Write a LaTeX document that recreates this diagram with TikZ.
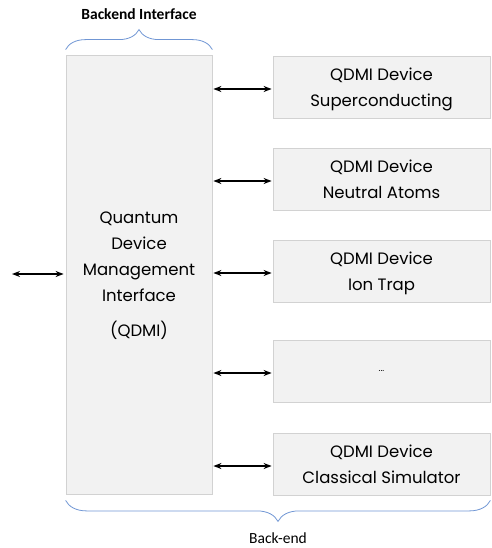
\documentclass[tikz,border=0pt]{standalone}
\usepackage{fontspec}
\setmainfont{Poppins}
\newfontfamily\calib{Carlito}
\usetikzlibrary{arrows.meta,decorations.pathreplacing}
\definecolor{boxfill}{RGB}{242,242,242}
\definecolor{boxline}{RGB}{210,210,210}
\definecolor{bracecol}{RGB}{112,150,212}
\begin{document}
\begin{tikzpicture}[x=1pt,y=-1pt,
        txt/.style={font=\fontsize{16.5}{26}\selectfont},
        blk/.style={txt,draw=boxline,fill=boxfill,line width=0.8pt,align=center,inner sep=0pt,text depth=0pt},
        dev/.style={blk,minimum width=217pt,minimum height=62pt},
        biarrow/.style={{Stealth[length=8pt,width=6pt]}-{Stealth[length=8pt,width=6pt]},line width=1.8pt},
        brc/.style={draw=bracecol,line width=0.8pt,decorate}]
    \useasboundingbox (0,0) rectangle (491,548);
    \node[blk,minimum width=146pt,minimum height=439pt] (qdmi) at (139,274.5) {Quantum\\Device\\Management\\Interface\\[9pt](QDMI)};
    \foreach \n/\y/\lbl in {1/87/{QDMI Device\\Superconducting},2/179/{QDMI Device\\Neutral Atoms},3/271/{QDMI Device\\Ion Trap},4/371/{\fontsize{9}{10}\selectfont ...},5/464/{QDMI Device\\Classical Simulator}}
        \node[dev] (dev\n) at (381.5,\y) {\lbl};
    \foreach \n in {1,...,5}
        \draw[biarrow,shorten <=1pt,shorten >=1pt] ([yshift=-2pt]qdmi.east |- dev\n) -- ([yshift=-2pt]dev\n.west);
    \coordinate (ext) at (12,274);
    \draw[biarrow,shorten >=2pt] (ext) -- (qdmi.west |- ext);

    \draw[brc,decoration={brace,amplitude=20pt}] ([yshift=5pt]qdmi.north west) -- ([yshift=5pt]qdmi.north east);
    \node[font=\calib\bfseries\fontsize{15.5}{17}\selectfont] (bkif) at (139,14) {Backend Interface};
    \draw[brc,decoration={brace,amplitude=21pt}] ([yshift=-5pt]dev5.south east) -- ([yshift=-5pt]qdmi.west |- dev5.south);
    \node[font=\calib\fontsize{15.5}{17}\selectfont] (bkend) at (278,538) {Back-end};
\end{tikzpicture}
\end{document}
